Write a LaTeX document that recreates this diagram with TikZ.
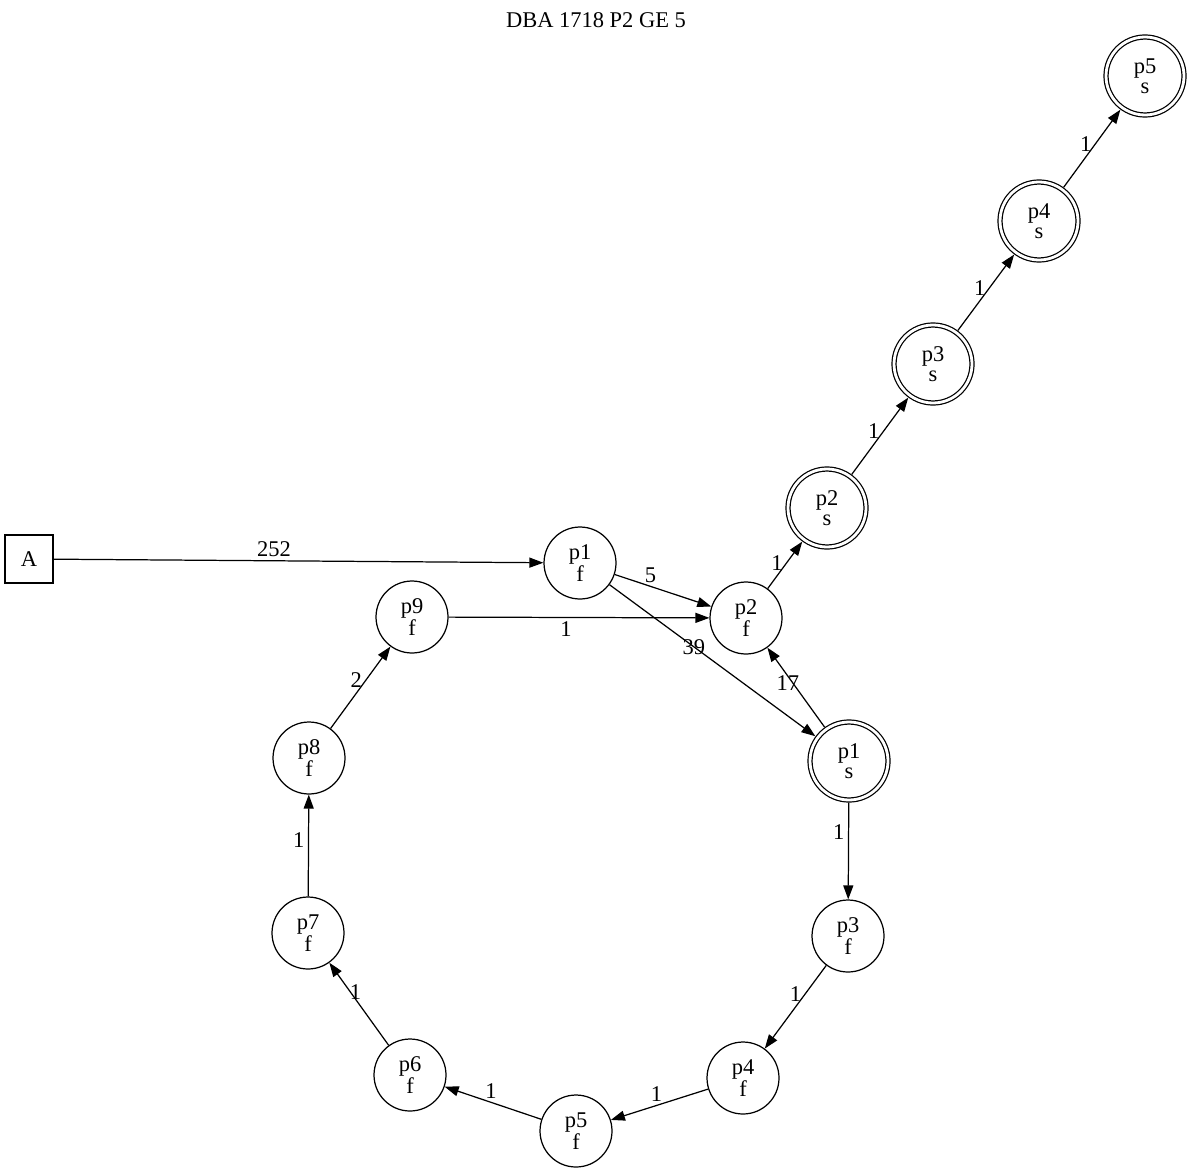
\documentclass[tikz,border=0pt]{standalone}
\usepackage{fontspec}
\setmainfont{Liberation Serif}
\usetikzlibrary{arrows.meta}
\tikzset{
  fnode/.style={circle, draw, line width=0.7pt, minimum size=1.44cm, inner sep=0pt, align=center, font=\fontsize{12.8}{11.5}\selectfont},
  snode/.style={fnode, double, double distance=0.056cm, minimum size=1.56cm, outer sep=0.055cm},
  startbox/.style={rectangle, draw, line width=0.7pt, minimum size=0.96cm, inner sep=0pt, font=\fontsize{12.8}{11.5}\selectfont},
  arr/.style={-{Triangle[length=0.28cm,width=0.2cm]}, line width=0.7pt},
  lbl/.style={font=\fontsize{12.8}{11.5}\selectfont, inner sep=2pt}
}
\begin{document}
\begin{tikzpicture}[x=0.02cm, y=-0.02cm]
        \useasboundingbox (0,0) rectangle (1192,1172);

        % Title
        \node[lbl] (title) at (596,20) {DBA 1718 P2 GE 5};

        % Start
        \node[startbox] (A) at (29,559) {A};

        % f states
        \node[fnode] (p1f) at (580,563) {p1\\f};
        \node[fnode] (p2f) at (746,618) {p2\\f};
        \node[fnode] (p3f) at (848,936) {p3\\f};
        \node[fnode] (p4f) at (743,1078) {p4\\f};
        \node[fnode] (p5f) at (576,1131) {p5\\f};
        \node[fnode] (p6f) at (410,1075) {p6\\f};
        \node[fnode] (p7f) at (308,933) {p7\\f};
        \node[fnode] (p8f) at (309,758) {p8\\f};
        \node[fnode] (p9f) at (412,617) {p9\\f};

        % s states
        \node[snode] (p1s) at (849,761) {p1\\s};
        \node[snode] (p2s) at (827,508) {p2\\s};
        \node[snode] (p3s) at (933,364) {p3\\s};
        \node[snode] (p4s) at (1039,221) {p4\\s};
        \node[snode] (p5s) at (1145,76) {p5\\s};

        % Edges
        \draw[arr] (A) -- (p1f) node[lbl, pos=0.45, above] {252};
        \draw[arr] (p1f) -- (p2f) node[lbl, pos=0.37, above] {5};
        \draw[arr] (p1f) -- (p1s) node[lbl, pos=0.41] {39};
        \draw[arr] (p9f) -- (p2f) node[lbl, pos=0.45, below] {1};
        \draw[arr] (p1s) -- (p2f) node[lbl, pos=0.55, xshift=-3pt] {17};
        \draw[arr] (p2f) -- (p2s) node[lbl, pos=0.55, left] {1};
        \draw[arr] (p2s) -- (p3s) node[lbl, pos=0.56, left] {1};
        \draw[arr] (p3s) -- (p4s) node[lbl, pos=0.56, left] {1};
        \draw[arr] (p4s) -- (p5s) node[lbl, pos=0.56, left] {1};
        \draw[arr] (p1s) -- (p3f) node[lbl, pos=0.3, left] {1};
        \draw[arr] (p3f) -- (p4f) node[lbl, pos=0.34, left] {1};
        \draw[arr] (p4f) -- (p5f) node[lbl, pos=0.53, above] {1};
        \draw[arr] (p5f) -- (p6f) node[lbl, pos=0.52, above] {1};
        \draw[arr] (p6f) -- (p7f) node[lbl, pos=0.65, xshift=3pt] {1};
        \draw[arr] (p7f) -- (p8f) node[lbl, pos=0.55, left] {1};
        \draw[arr] (p8f) -- (p9f) node[lbl, pos=0.59, left] {2};
    \end{tikzpicture}
\end{document}
